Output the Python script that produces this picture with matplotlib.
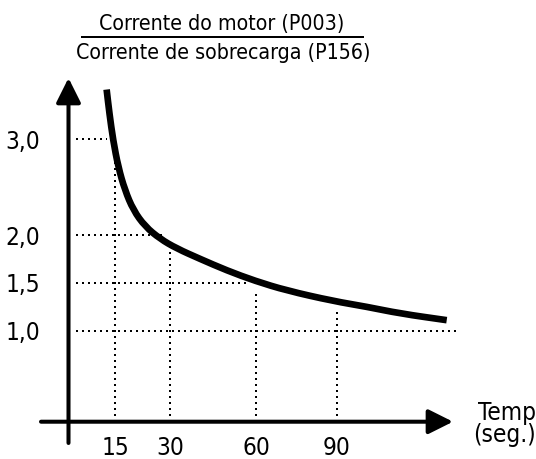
import numpy as np
import matplotlib
matplotlib.use("Agg")
import matplotlib.pyplot as plt
from matplotlib import font_manager
from matplotlib.lines import Line2D
from matplotlib.patches import FancyArrowPatch, PathPatch
from matplotlib.path import Path

W, H, DPI = 536, 459, 100

# overload curve: time (s) -> motor current / overload current
curve_t = [12.3, 13.2, 14.4, 15.9, 17.7, 20.0, 23.2, 27.3, 32.3, 40.5, 49.8, 59.7,
           71.4, 88.7, 101.2, 113.5, 130.9]
curve_v = [3.52, 3.27, 2.99, 2.71, 2.47, 2.26, 2.09, 1.96, 1.86, 1.75, 1.63, 1.52,
           1.42, 1.31, 1.25, 1.18, 1.11]

tick_t = [15, 30, 60, 90]
tick_labels = ["15", "30", "60", "90"]
tick_guide_top = [2.87, 1.90, 1.43, 1.23]

level_v = [3.0, 2.0, 1.5, 1.0]
level_labels = ["3,0", "2,0", "1,5", "1,0"]
level_guide_end = [12.4, 28.6, 58.0, 135.0]

# time axis is drawn piecewise-linear (sketch, not to uniform scale)
knot_t = [-100, 0, 15, 30, 60, 90, 300]
knot_px = [-241.5, 68.5, 115, 170, 256, 336.7, 901.6]
PX_PER_UNIT = 95.7
Y_ZERO_PX = 426.4


def fwd(t):
    return np.interp(t, knot_t, knot_px)


def inv(u):
    return np.interp(u, knot_px, knot_t)


def smooth_path(ts, vs):
    """Quadratic-Bezier path through the midpoints of the polyline (midpoints taken in scale space)."""
    pts = list(zip(ts, vs))
    mids = [(float(inv((fwd(a[0]) + fwd(b[0])) / 2)), (a[1] + b[1]) / 2)
            for a, b in zip(pts[:-1], pts[1:])]
    verts = [pts[0], mids[0]]
    codes = [Path.MOVETO, Path.LINETO]
    for p, m in zip(pts[1:-1], mids[1:]):
        verts += [p, m]
        codes += [Path.CURVE3, Path.CURVE3]
    verts.append(pts[-1])
    codes.append(Path.LINETO)
    return Path(verts, codes)


# prefer a narrow face if one is installed
narrow = [f for f in font_manager.fontManager.ttflist
          if "Narrow" in f.name or "Condensed" in f.name
          or str(f.stretch) in ("condensed", "semi-condensed", "extra-condensed")]
narrow = [f for f in narrow if "Bold" not in f.fname and "Italic" not in f.fname
          and "Oblique" not in f.fname]
if narrow:
    LABEL = font_manager.FontProperties(fname=narrow[0].fname, size=17.5)
    TITLE = font_manager.FontProperties(fname=narrow[0].fname, size=15.3)
else:
    LABEL = font_manager.FontProperties(family="Liberation Sans", size=16)
    TITLE = font_manager.FontProperties(family="Liberation Sans", size=14.8)

fig = plt.figure(figsize=(W / DPI, H / DPI), dpi=DPI)
ax = fig.add_axes([0, 0, 1, 1])
ax.set_xscale("function", functions=(fwd, inv))
ax.set_xlim(inv(0), inv(W))
ax.set_ylim((Y_ZERO_PX - H) / PX_PER_UNIT, Y_ZERO_PX / PX_PER_UNIT)
ax.axis("off")

y_axis = 0.049
dot = dict(color="black", lw=1.44, linestyle=(0, (1, 2)), dash_capstyle="butt")

# dotted guides
t_start = inv(76)
for v, t_end in zip(level_v, level_guide_end):
    ax.plot([t_start, t_end], [v, v], **dot)
for t, top in zip(tick_t, tick_guide_top):
    ax.plot([t, t], [y_axis, top], **dot)

# axes with arrow heads
arrow = dict(arrowstyle="-|>,head_length=1.0,head_width=0.5", mutation_scale=15,
             color="black", lw=2.9, shrinkA=0, shrinkB=0)
ax.add_patch(FancyArrowPatch((inv(41), y_axis), (inv(453), y_axis), **arrow))
ax.add_patch(FancyArrowPatch((0, (Y_ZERO_PX - 443) / PX_PER_UNIT),
                             (0, (Y_ZERO_PX - 78) / PX_PER_UNIT), **arrow))

ax.add_patch(PathPatch(smooth_path(curve_t, curve_v), facecolor="none", edgecolor="black",
                       lw=4.8, capstyle="butt", joinstyle="round"))

for t, lab in zip(tick_t, tick_labels):
    ax.text(t, -0.295, lab, ha="center", va="baseline", fontproperties=LABEL)
for v, lab in zip(level_v, level_labels):
    ax.text(inv(40.5), v - 0.10, lab, ha="right", va="baseline", fontproperties=LABEL)

fig.text(478 / W, 1 - 420 / H, "Tempo", ha="left", va="baseline", fontproperties=LABEL)
fig.text(473 / W, 1 - 441.7 / H, "(seg.)", ha="left", va="baseline", fontproperties=LABEL)

# ratio label over the plot
fig.text(221.5 / W, 1 - 30 / H, "Corrente do motor (P003)", ha="center", va="baseline",
         fontproperties=TITLE)
fig.text(223.5 / W, 1 - 59.3 / H, "Corrente de sobrecarga (P156)", ha="center",
         va="baseline", fontproperties=TITLE)
fig.add_artist(Line2D([82 / W, 363 / W], [1 - 37 / H, 1 - 37 / H], color="black", lw=1.44))

fig.savefig("out.png", dpi=DPI)
